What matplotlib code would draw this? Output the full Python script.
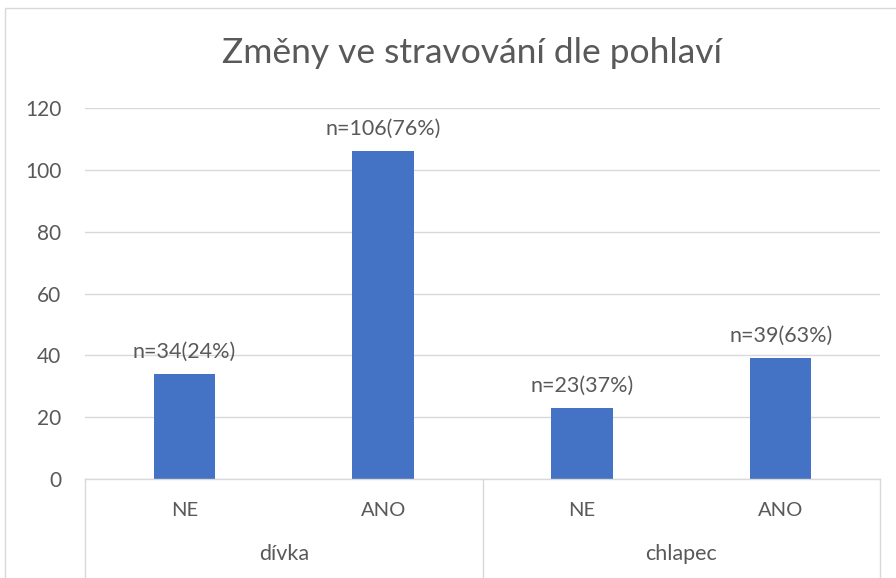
import matplotlib
matplotlib.use("Agg")
import matplotlib.pyplot as plt
from matplotlib.patches import Rectangle
import matplotlib.transforms as mtransforms

title = "Změny ve stravování dle pohlaví"
groups = ["dívka", "chlapec"]
answers = ["NE", "ANO", "NE", "ANO"]
values = [34, 106, 23, 39]
labels = ["n=34(24%)", "n=106(76%)", "n=23(37%)", "n=39(63%)"]
yticks = [0, 20, 40, 60, 80, 100, 120]

plt.rcParams['font.family'] = ['Lato', 'DejaVu Sans']
txt = '#595959'
W, H = 896, 578
fig = plt.figure(figsize=(W/100, H/100), dpi=100)

# outer chart border
fig.patches.append(Rectangle((5/W, -0.1), 1.2, (H-8)/H + 0.1, transform=fig.transFigure,
                             fill=False, edgecolor='#d9d9d9', lw=1.0))

l, r, t, b = 85, 880, 108, 479
ax = fig.add_axes([l/W, 1-b/H, (r-l)/W, (b-t)/H])
x = list(range(len(values)))
ax.bar(x, values, width=0.31, color='#4472c4', zorder=3)
ax.set_xlim(-0.5, len(values)-0.5)
ax.set_ylim(0, 120)
ax.set_yticks(yticks)
ax.set_yticklabels([str(v) for v in yticks], color=txt, fontsize=15)
ax.tick_params(axis='y', length=0, pad=17)
ax.set_xticks([])
for s in ax.spines.values():
    s.set_visible(False)
ax.grid(axis='y', color='#d9d9d9', lw=1.0, zorder=0)

for xi, v, lab in zip(x, values, labels):
    ax.annotate(lab, (xi, v), xytext=(0, 9), textcoords='offset points',
                ha='center', va='bottom', fontsize=15.5, color=txt)

trans = mtransforms.blended_transform_factory(ax.transData, ax.transAxes)
ax.plot([-0.5, len(values)-0.5], [0, 0], color='#d9d9d9', lw=1.0, transform=trans, clip_on=False, zorder=4)
axh = b - t
bottom_frac = (b - H - 5) / axh
for sx in [-0.5, 1.5, 3.5]:
    ax.plot([sx, sx], [0, bottom_frac], color='#d9d9d9', lw=1.0, transform=trans, clip_on=False)
for xi, a in zip(x, answers):
    ax.text(xi, (b-510)/axh, a, transform=trans, ha='center', va='center', fontsize=14.5, color=txt)
for gi, g in enumerate(groups):
    ax.text(gi*2 + 0.5, (b-554)/axh, g, transform=trans, ha='center', va='center', fontsize=15.5, color=txt)

fig.text(472/W, 1-53/H, title, ha='center', va='center', fontsize=25.5, color=txt)

fig.savefig("out.png", dpi=100)
